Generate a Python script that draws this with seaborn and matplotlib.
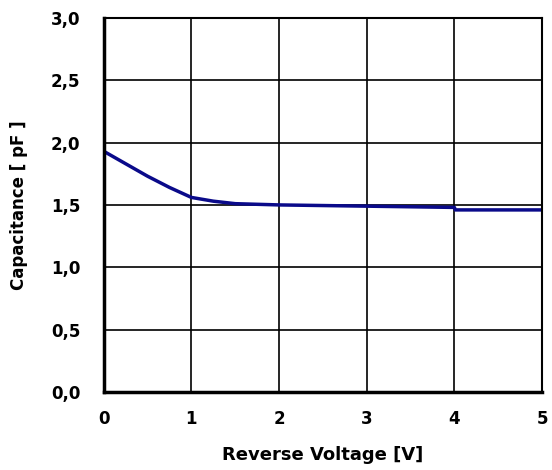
import numpy as np
import pandas as pd
import seaborn as sns
import matplotlib.pyplot as plt

# curve
voltage = [0.0, 0.25, 0.5, 0.75, 1.0, 1.25, 1.5, 2.0, 3.0, 4.0, 4.01, 5.0]
capacitance = [1.93, 1.83, 1.73, 1.64, 1.56, 1.53, 1.51, 1.50, 1.49, 1.48, 1.46, 1.46]

y_ticks = [0.0, 0.5, 1.0, 1.5, 2.0, 2.5, 3.0]
x_ticks = [0, 1, 2, 3, 4, 5]

sns.set_theme(style="white")
plt.rcParams['font.family'] = ['DejaVu Sans']
plt.rcParams['text.color'] = 'black'
plt.rcParams['axes.labelcolor'] = 'black'
plt.rcParams['xtick.color'] = 'black'
plt.rcParams['ytick.color'] = 'black'

df = pd.DataFrame({"V": voltage, "C": capacitance})

fig = plt.figure(figsize=(5.52, 4.70), dpi=100)
ax = fig.add_axes([0.188, 0.166, 0.794, 0.796])

sns.lineplot(data=df, x="V", y="C", ax=ax, color="#0a0a8a", linewidth=2.5)

ax.set_xlim(0, 5)
ax.set_ylim(0, 3)
ax.set_xticks(x_ticks)
ax.set_yticks(y_ticks)
ax.set_xticklabels([str(t) for t in x_ticks], fontweight="bold", fontsize=12)
ax.set_yticklabels([f"{t:.1f}".replace(".", ",") for t in y_ticks],
                   fontweight="bold", fontsize=12)
ax.grid(True, color="black", linewidth=1.2)
for s in ax.spines.values():
    s.set_color("black")
    s.set_linewidth(1.5)
ax.spines["left"].set_linewidth(2.5)
ax.spines["bottom"].set_linewidth(2.5)
ax.tick_params(axis="y", length=0, pad=17)
ax.tick_params(axis="x", length=0, pad=13)

ax.set_xlabel("Reverse Voltage [V]", fontweight="bold", fontsize=13)
ax.set_ylabel("Capacitance [ pF ]", fontweight="bold", fontsize=12)
ax.xaxis.set_label_coords(0.5, -0.145)
ax.yaxis.set_label_coords(-0.174, 0.5)

fig.savefig("out.png", dpi=100)
